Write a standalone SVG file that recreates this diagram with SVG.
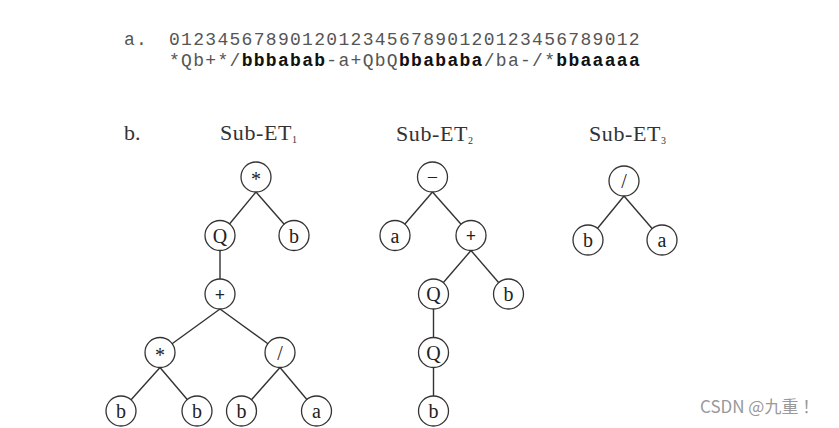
<svg xmlns="http://www.w3.org/2000/svg" width="839" height="428" viewBox="0 0 839 428">
<style>
.bg{fill:#fff}
.mono{font-family:"Liberation Mono","Courier New",monospace;font-size:18px;letter-spacing:1.3px;fill:#555}
.mono .b{font-weight:bold;fill:#111}
.serif{font-family:"Liberation Serif","Times New Roman",serif;fill:#333}
.lbl{font-size:22px}
.sub{font-size:10px}
.node circle{fill:#fff;stroke:#333;stroke-width:1.3}
.node text{font-family:"Liberation Serif","Times New Roman",serif;font-size:20px;fill:#222;text-anchor:middle}
.node text.op{font-weight:bold;font-size:18px}
#connectors line{stroke:#333;stroke-width:1.4}
.wm{font-family:"Noto Sans CJK SC","Noto Sans",sans-serif;font-size:17px;fill:#999}
</style>
<rect class="bg" x="0" y="0" width="839" height="428"/>
<text class="mono" x="124" y="45">a.</text>
<text class="mono" x="169" y="45">012345678901201234567890120123456789012</text>
<text class="mono" x="169" y="66">*Qb+*/<tspan class="b">bbbabab</tspan>-a+QbQ<tspan class="b">bbababa</tspan>/ba-/*<tspan class="b">bbaaaaa</tspan></text>
<text class="serif lbl" x="124" y="140">b.</text>
<text class="serif lbl" x="220" y="140" letter-spacing="0.6">Sub-ET<tspan class="sub" dy="3">1</tspan></text>
<text class="serif lbl" x="396" y="141" letter-spacing="0.6">Sub-ET<tspan class="sub" dy="3">2</tspan></text>
<text class="serif lbl" x="589" y="141" letter-spacing="0.6">Sub-ET<tspan class="sub" dy="3">3</tspan></text>
<g id="connectors">
<line x1="256" y1="192" x2="220" y2="235.5"/>
<line x1="256" y1="192" x2="294" y2="235.5"/>
<line x1="220" y1="250" x2="220" y2="294"/>
<line x1="220" y1="309" x2="160" y2="352.5"/>
<line x1="220" y1="309" x2="280" y2="352.5"/>
<line x1="160" y1="367.5" x2="121" y2="411"/>
<line x1="160" y1="367.5" x2="197" y2="411"/>
<line x1="280" y1="367.5" x2="241.5" y2="411"/>
<line x1="280" y1="367.5" x2="316.5" y2="411"/>
<line x1="432.5" y1="192" x2="395" y2="235.5"/>
<line x1="432.5" y1="192" x2="471" y2="235.5"/>
<line x1="471" y1="250.5" x2="433.5" y2="294"/>
<line x1="471" y1="250.5" x2="508.5" y2="294"/>
<line x1="433.5" y1="309" x2="433.5" y2="352.5"/>
<line x1="433.5" y1="367.5" x2="433.5" y2="411"/>
<line x1="624" y1="196" x2="588" y2="240"/>
<line x1="624" y1="196" x2="662" y2="240"/>
</g>
<g id="t1-mul" class="node"><circle cx="256" cy="177" r="15"/><text x="256" y="186">*</text></g>
<g id="t1-q" class="node"><circle cx="220" cy="235.5" r="15"/><text x="220" y="242.5">Q</text></g>
<g id="t1-b" class="node"><circle cx="294" cy="235.5" r="15"/><text x="294" y="242.5">b</text></g>
<g id="t1-plus" class="node"><circle cx="220" cy="294" r="15"/><text class="op" x="220" y="300.5">+</text></g>
<g id="t1-mul2" class="node"><circle cx="160" cy="352.5" r="15"/><text x="160" y="361.5">*</text></g>
<g id="t1-div" class="node"><circle cx="280" cy="352.5" r="15"/><text x="280" y="359.5">/</text></g>
<g id="t1-b1" class="node"><circle cx="121" cy="411" r="15"/><text x="121" y="418">b</text></g>
<g id="t1-b2" class="node"><circle cx="197" cy="411" r="15"/><text x="197" y="418">b</text></g>
<g id="t1-b3" class="node"><circle cx="241.5" cy="411" r="15"/><text x="241.5" y="418">b</text></g>
<g id="t1-a" class="node"><circle cx="316.5" cy="411" r="15"/><text x="316.5" y="418">a</text></g>
<g id="t2-minus" class="node"><circle cx="432.5" cy="177" r="15"/><text x="432.5" y="183.5">−</text></g>
<g id="t2-a" class="node"><circle cx="395" cy="235.5" r="15"/><text x="395" y="242.5">a</text></g>
<g id="t2-plus" class="node"><circle cx="471" cy="235.5" r="15"/><text class="op" x="471" y="242">+</text></g>
<g id="t2-q1" class="node"><circle cx="433.5" cy="294" r="15"/><text x="433.5" y="301">Q</text></g>
<g id="t2-b1" class="node"><circle cx="508.5" cy="294" r="15"/><text x="508.5" y="301">b</text></g>
<g id="t2-q2" class="node"><circle cx="433.5" cy="352.5" r="15"/><text x="433.5" y="359.5">Q</text></g>
<g id="t2-b2" class="node"><circle cx="433.5" cy="411" r="15"/><text x="433.5" y="418">b</text></g>
<g id="t3-div" class="node"><circle cx="624" cy="181" r="15"/><text x="624" y="188">/</text></g>
<g id="t3-b" class="node"><circle cx="588" cy="240" r="15"/><text x="588" y="247">b</text></g>
<g id="t3-a" class="node"><circle cx="662" cy="240" r="15"/><text x="662" y="247">a</text></g>
<text class="wm" x="700" y="413">CSDN @九重 ！</text>
</svg>
